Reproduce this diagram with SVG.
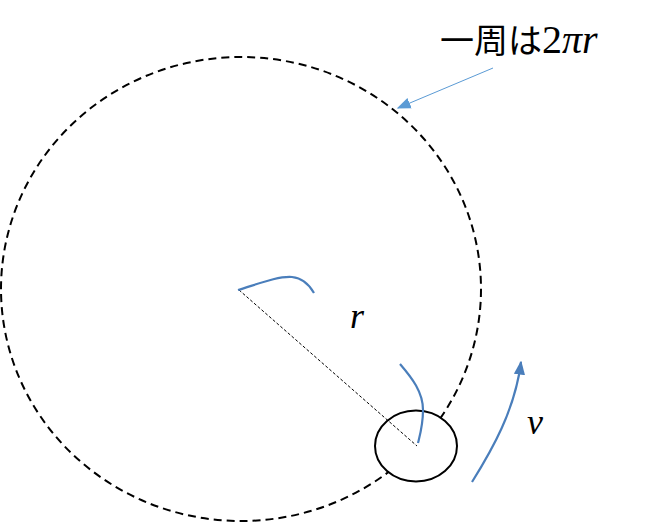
<svg xmlns="http://www.w3.org/2000/svg" width="654" height="523" viewBox="0 0 654 523">
<defs>
<style>
.orbit{fill:none;stroke:#000;stroke-width:2;stroke-dasharray:8 5}
.body{fill:#fff;stroke:#000;stroke-width:2}
.radius{fill:none;stroke:#000;stroke-width:1;stroke-dasharray:3 2}
.brace{fill:none;stroke:#4A7EBB;stroke-width:2.2}
.call{fill:none;stroke:#5B9BD5;stroke-width:1}
.lbl{font-family:"Liberation Serif",serif;font-style:italic;fill:#000}
.jp{font-family:"Noto Sans CJK JP","Noto Sans",sans-serif;fill:#000}
</style>
<marker id="ah2" viewBox="0 0 10 10" refX="9" refY="5" markerWidth="14" markerHeight="14" orient="auto" markerUnits="userSpaceOnUse">
<path d="M0,1 L10,5 L0,9 z" fill="#5B9BD5"/>
</marker>
<marker id="ah3" viewBox="0 0 10 10" refX="9" refY="5" markerWidth="14" markerHeight="14" orient="auto" markerUnits="userSpaceOnUse">
<path d="M0,1 L10,5 L0,9 z" fill="#4A7EBB"/>
</marker>
</defs>
<g id="orbit">
<ellipse class="orbit" cx="241" cy="289" rx="240" ry="232"/>
</g>
<g id="body">
<ellipse class="body" cx="416" cy="446" rx="41" ry="35.5"/>
</g>
<g id="connectors">
<line class="radius" x1="239" y1="290" x2="417" y2="446"/>
<path class="brace" d="M238,290 C258,284 278,276 292,277 C303,278 310,286 314,293"/>
<path class="brace" d="M400,364 C412,378 423,392 423,410 C423,425 420,435 418,443"/>
<path class="brace" d="M472,482 C492,450 515,410 521,362" marker-end="url(#ah3)"/>
<line class="call" x1="493" y1="68" x2="398" y2="108" marker-end="url(#ah2)"/>
</g>
<g id="labels">
<text class="lbl" x="350" y="328" font-size="36">r</text>
<text class="lbl" x="527" y="434" font-size="36">v</text>
<text x="440" y="53" font-size="34"><tspan class="jp">一周は</tspan><tspan font-family="Liberation Serif,serif" font-size="40">2</tspan><tspan class="lbl" font-size="40">πr</tspan></text>
</g>
</svg>
